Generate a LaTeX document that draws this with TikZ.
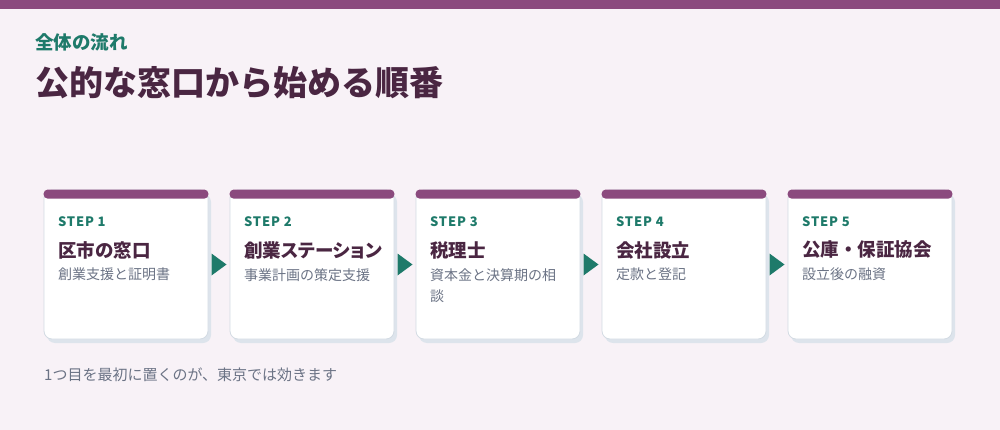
\documentclass[tikz,border=0pt]{standalone}
\usepackage{fontspec}
\setmainfont{Noto Sans CJK JP}
\usetikzlibrary{calc,shadows}

\definecolor{pagebg}{HTML}{F8F2F7}
\definecolor{plum}{HTML}{8B4A7E}
\definecolor{stepteal}{HTML}{1E7A6A}
\definecolor{darkplum}{HTML}{4A2642}
\definecolor{slategray}{HTML}{6B7385}
\definecolor{cardline}{HTML}{D3DBE3}
\definecolor{cardshade}{HTML}{DDE4EC}

\tikzset{
  card/.style={draw=cardline, fill=white, line width=0.8pt, rounded corners=8pt,
    minimum width=164pt, minimum height=149pt, inner sep=0pt,
    drop shadow={shadow xshift=3pt, shadow yshift=-4pt, fill=cardshade, opacity=1}},
  steplabel/.style={anchor=west, inner sep=0pt, text=stepteal,
    font=\fontsize{13}{16}\selectfont\bfseries\addfontfeature{LetterSpace=6}},
  steptitle/.style={anchor=west, inner sep=0pt, text=darkplum,
    font=\fontsize{18.5}{22}\selectfont\bfseries},
  stepnote/.style={anchor=north west, inner sep=0pt, text=slategray, align=left,
    font=\fontsize{14}{21}\selectfont},
  steparrow/.style={fill=stepteal}
}

\begin{document}
\begin{tikzpicture}[x=1pt, y=-1pt]
    \useasboundingbox (0,0) rectangle (1000,430);
    \fill[pagebg] (0,0) rectangle (1000,430);
    \fill[plum] (0,0) rectangle (1000,9);

    % heading
    \node[anchor=west, inner sep=0pt, text=stepteal, font=\fontsize{18.5}{22}\selectfont\bfseries] (kicker) at (35,42) {全体の流れ};
    \node[anchor=west, inner sep=0pt, text=darkplum, font=\fontsize{34}{40}\selectfont\bfseries] (headline) at (35,83) {公的な窓口から始める順番};

    % cards
    \node[card] (c1) at (126,264.5) {};
    \node[card] (c2) at (312,264.5) {};
    \node[card] (c3) at (498,264.5) {};
    \node[card] (c4) at (684,264.5) {};
    \node[card] (c5) at (870,264.5) {};
    \fill[plum, rounded corners=4pt] (c1.north west) rectangle ([yshift=-9pt]c1.north east);
    \fill[plum, rounded corners=4pt] (c2.north west) rectangle ([yshift=-9pt]c2.north east);
    \fill[plum, rounded corners=4pt] (c3.north west) rectangle ([yshift=-9pt]c3.north east);
    \fill[plum, rounded corners=4pt] (c4.north west) rectangle ([yshift=-9pt]c4.north east);
    \fill[plum, rounded corners=4pt] (c5.north west) rectangle ([yshift=-9pt]c5.north east);

    % step 1
    \node[steplabel] (s1) at (58,222) {STEP 1};
    \node[steptitle] (t1) at (58,250) {区市の窓口};
    \node[stepnote] (n1) at (58,268) {創業支援と証明書};
    % step 2
    \node[steplabel] (s2) at (244,222) {STEP 2};
    \node[steptitle] (t2) at (244,250) {\addfontfeature{RawFeature=+palt}創業ステーション};
    \node[stepnote] (n2) at (244,268) {事業計画の策定支援};
    % step 3
    \node[steplabel] (s3) at (430,222) {STEP 3};
    \node[steptitle] (t3) at (430,250) {税理士};
    \node[stepnote] (n3) at (430,268) {資本金と決算期の相\\談};
    % step 4
    \node[steplabel] (s4) at (616,222) {STEP 4};
    \node[steptitle] (t4) at (616,250) {会社設立};
    \node[stepnote] (n4) at (616,268) {定款と登記};
    % step 5
    \node[steplabel] (s5) at (802,222) {STEP 5};
    \node[steptitle] (t5) at (802,250) {公庫・保証協会};
    \node[stepnote] (n5) at (802,268) {設立後の融資};

    % arrows between cards
    \fill[steparrow] ($(c1.east)!0.5!(c2.west)$) ++(-7.5,-11) -- ++(15,11) -- ++(-15,11) -- cycle;
    \fill[steparrow] ($(c2.east)!0.5!(c3.west)$) ++(-7.5,-11) -- ++(15,11) -- ++(-15,11) -- cycle;
    \fill[steparrow] ($(c3.east)!0.5!(c4.west)$) ++(-7.5,-11) -- ++(15,11) -- ++(-15,11) -- cycle;
    \fill[steparrow] ($(c4.east)!0.5!(c5.west)$) ++(-7.5,-11) -- ++(15,11) -- ++(-15,11) -- cycle;

    % footnote
    \node[anchor=west, inner sep=0pt, text=slategray, font=\fontsize{15}{18}\selectfont] (foot) at (44,375) {1つ目を最初に置くのが、東京では効きます};
\end{tikzpicture}
\end{document}
